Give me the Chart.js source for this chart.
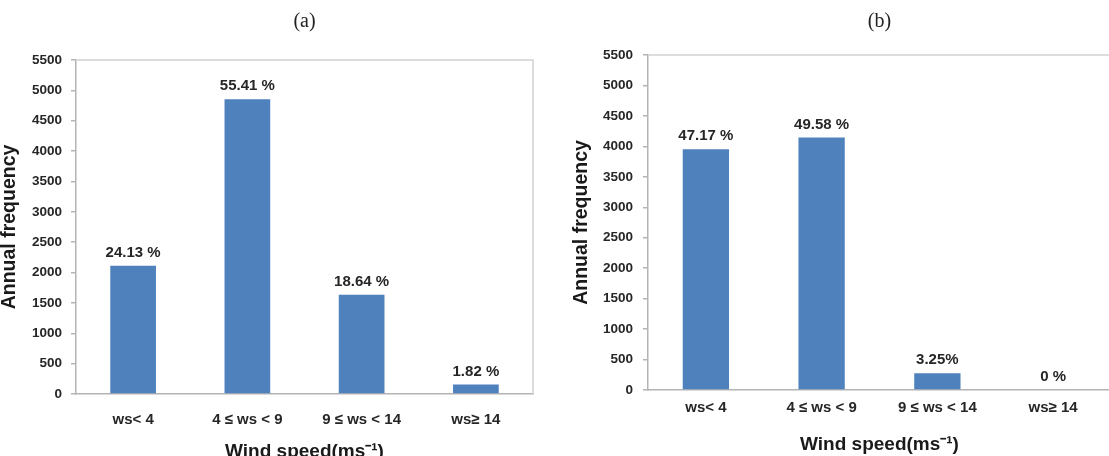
<!DOCTYPE html>
<html><head><meta charset="utf-8">
<script src="https://cdn.jsdelivr.net/npm/chart.js@4"></script>
<style>
html,body{margin:0;padding:0;background:#fff;overflow:hidden;width:1109px;height:456px;}
#ca{position:absolute;left:0;top:0;}
#cb{position:absolute;left:555px;top:0;}
</style></head><body>
<canvas id="ca" width="560" height="470"></canvas>
<canvas id="cb" width="575" height="470"></canvas>
<script>
// ---- data ----
const categories = ["ws< 4", "4 ≤ ws < 9", "9 ≤ ws < 14", "ws≥ 14"];
const valuesA = [2110, 4855, 1635, 155];
const valuesB = [3952, 4145, 274, 0];
const percentA = ["24.13 %", "55.41 %", "18.64 %", "1.82 %"];
const percentB = ["47.17 %", "49.58 %", "3.25%", "0 %"];
const yTickValues = [0, 500, 1000, 1500, 2000, 2500, 3000, 3500, 4000, 4500, 5000, 5500];
const panelTitles = ["(a)", "(b)"];
const xAxisTitle = "Wind speed(ms\u207B\u00B9)";
const yAxisTitle = "Annual frequency";

const SANS = '"Liberation Sans", Arial, Helvetica, sans-serif';
const SERIF = '"Liberation Serif", "Times New Roman", serif';
const TEXT = '#262626';
const AXIS = '#b4b4b4';

const framePlugin = {
  id: 'frame',
  beforeDatasetsDraw(chart) {
    const {ctx, chartArea: a} = chart;
    ctx.save();
    ctx.strokeStyle = '#d2d2d2';
    ctx.lineWidth = 1.5;
    ctx.beginPath();
    ctx.moveTo(a.left, a.top);
    ctx.lineTo(a.right, a.top);
    ctx.lineTo(a.right, a.bottom);
    ctx.stroke();
    ctx.restore();
  }
};

const labelPlugin = {
  id: 'barLabels',
  afterDatasetsDraw(chart, args, opts) {
    const ctx = chart.ctx;
    const meta = chart.getDatasetMeta(0);
    ctx.save();
    ctx.font = 'bold 15px ' + SANS;
    ctx.textAlign = 'center';
    ctx.textBaseline = 'alphabetic';
    ctx.fillStyle = TEXT;
    meta.data.forEach((bar, i) => {
      ctx.fillText(opts.labels[i], bar.x, bar.y - 9);
    });
    ctx.restore();
  }
};

function makeChart(id, title, values, pcts, cfg) {
  return new Chart(document.getElementById(id), {
    type: 'bar',
    data: {
      labels: categories,
      datasets: [{
        data: values,
        backgroundColor: '#4f81bd',
        borderWidth: 0,
        categoryPercentage: 0.8,
        barPercentage: 0.5
      }]
    },
    options: {
      responsive: false,
      animation: false,
      layout: {padding: {left: 0, right: cfg.padRight, top: 0, bottom: 0}},
      plugins: {
        legend: {display: false},
        tooltip: {enabled: false},
        title: {
          display: true, text: title, fullSize: false,
          font: {family: SERIF, size: 20, weight: 'normal'},
          color: '#222',
          padding: {top: 10, bottom: cfg.titleBottom}
        },
        barLabels: {labels: pcts}
      },
      scales: {
        x: {
          grid: {display: false, drawTicks: false},
          border: {display: true, color: AXIS, width: 1.5},
          ticks: {
            font: {family: SANS, size: 15, weight: 'bold'}, color: TEXT,
            padding: cfg.xTickPad, maxRotation: 0, autoSkip: false
          },
          title: {
            display: true, text: xAxisTitle,
            font: {family: SANS, size: 19, weight: 'bold'}, color: '#1a1a1a',
            padding: {top: 0, bottom: cfg.xTitlePad}
          },
          afterFit(s) { s.height = cfg.xH; }
        },
        y: {
          min: 0, max: 5500,
          afterBuildTicks(s) { s.ticks = yTickValues.map(v => ({value: v})); },
          grid: {drawOnChartArea: false, drawTicks: true, tickLength: 5, color: AXIS, lineWidth: 1.5},
          border: {display: true, color: AXIS, width: 1.5},
          ticks: {
            font: {family: SANS, size: 13.5, weight: 'bold'}, color: TEXT, padding: cfg.yTickPad,
            callback: v => String(v)
          },
          title: {
            display: true, text: yAxisTitle,
            font: {family: SANS, size: 19.5, weight: 'bold', lineHeight: 1}, color: '#1a1a1a',
            padding: {top: cfg.yTitlePad, bottom: 0}
          },
          afterFit(s) { s.width = cfg.yW; }
        }
      }
    },
    plugins: [framePlugin, labelPlugin]
  });
}

makeChart('ca', panelTitles[0], valuesA, percentA, {
  padRight: 27, titleBottom: 26, xH: 76, xTickPad: 17, xTitlePad: 7, yW: 76, yTickPad: 9, yTitlePad: 0
});
makeChart('cb', panelTitles[1], valuesB, percentB, {
  padRight: 19, titleBottom: 21, xH: 80, xTickPad: 9, xTitlePad: 14, yW: 93, yTickPad: 10, yTitlePad: 17
});
</script>
</body></html>
